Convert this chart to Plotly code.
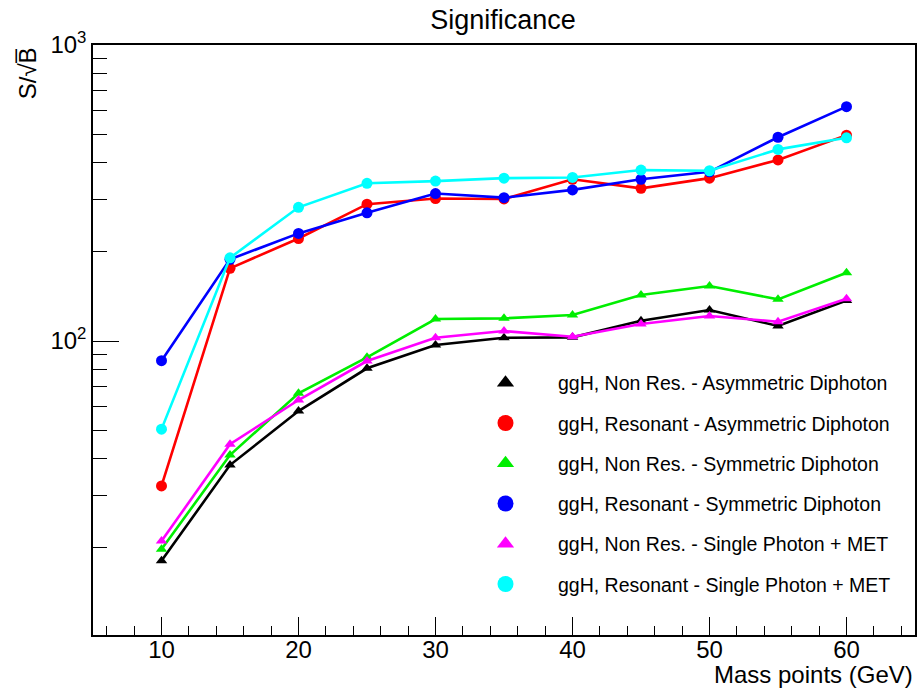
import plotly.graph_objects as go

mass = [10, 15, 20, 25, 30, 35, 40, 45, 50, 55, 60]

nonres_asym = [18.1, 38.1, 58.0, 80.9, 96.9, 102.6, 102.9, 117.1, 127.3, 112.4, 137.0]
res_asym = [32.4, 176, 222, 290, 303, 302, 352, 328, 355, 409, 496]
nonres_sym = [19.8, 41.2, 66.6, 88.1, 118.7, 119.3, 122.4, 143.0, 153.4, 138.3, 170.1]
res_sym = [85.8, 188.8, 231, 271, 315, 305, 324, 352, 373, 488, 619]
nonres_spmet = [21.1, 44.8, 63.2, 85.6, 102.6, 108.1, 103.4, 114.1, 121.5, 116.2, 139.0]
res_spmet = [50.4, 191, 283, 341, 347, 355, 357, 378, 376, 444, 486]

series_names = [
    "ggH, Non Res. - Asymmetric Diphoton",
    "ggH, Resonant - Asymmetric Diphoton",
    "ggH, Non Res. - Symmetric Diphoton",
    "ggH, Resonant - Symmetric Diphoton",
    "ggH, Non Res. - Single Photon + MET",
    "ggH, Resonant - Single Photon + MET",
]
series_values = [nonres_asym, res_asym, nonres_sym, res_sym, nonres_spmet, res_spmet]
series_colors = ["#000000", "#ff0000", "#00ee00", "#0000ff", "#ff00ff", "#00ffff"]
series_symbols = ["triangle-up", "circle", "triangle-up", "circle", "triangle-up", "circle"]

y_major = [100, 1000]
y_major_text = ["10<sup>2</sup>", "10<sup>3</sup>"]
y_minor = [20, 30, 40, 50, 60, 70, 80, 90, 200, 300, 400, 500, 600, 700, 800, 900]
x_major = [10, 20, 30, 40, 50, 60]
x_minor = [6, 8, 12, 14, 16, 18, 22, 24, 26, 28, 32, 34, 36, 38, 42, 44, 46, 48,
           52, 54, 56, 58, 62, 64]

FONT = "Liberation Sans, Arial, Helvetica, sans-serif"
PAD = "\u00a0" * 6

fig = go.Figure()

for name, vals, col, sym in zip(series_names, series_values, series_colors, series_symbols):
    fig.add_trace(go.Scatter(
        x=mass, y=vals, mode="lines+markers", name=name,
        line=dict(color=col, width=2.6),
        marker=dict(color=col, symbol=sym, size=11 if sym == "circle" else 10),
        showlegend=False,
    ))

for i, (name, col, sym) in enumerate(zip(series_names, series_colors, series_symbols)):
    fig.add_trace(go.Scatter(
        x=[None], y=[None], mode="markers", name=PAD + name,
        marker=dict(color=col, symbol=sym, size=17 if sym == "circle" else 15),
        legendgroup="g%d" % i, showlegend=True,
    ))

fig.update_layout(
    width=917, height=693,
    margin=dict(l=93, r=2, t=45, b=58, autoexpand=False),
    paper_bgcolor="white", plot_bgcolor="white",
    font=dict(family=FONT, color="black"),
    title=dict(text="Significance", x=0.5485, xanchor="center", y=0.972, yanchor="middle",
               font=dict(size=27, family=FONT, color="black")),
    showlegend=True,
    legend=dict(
        x=0.4775, y=0.46, xanchor="left", yanchor="top",
        font=dict(size=19.5, family=FONT, color="black"),
        bgcolor="rgba(0,0,0,0)", borderwidth=0,
        traceorder="grouped", tracegroupgap=11.9, itemwidth=30,
    ),
    xaxis=dict(
        range=[5, 65], showgrid=False, zeroline=False, automargin=False,
        showline=True, linecolor="black", linewidth=1.5, mirror=True,
        ticks="inside", ticklen=18, tickwidth=1.2, tickcolor="black",
        tickmode="array", tickvals=x_major, ticktext=[str(v) for v in x_major],
        tickfont=dict(size=24, family=FONT, color="black"),
        ticklabelstandoff=-8,
        minor=dict(tickmode="array", tickvals=x_minor, ticks="inside", ticklen=9,
                   tickwidth=1.2, tickcolor="black", showgrid=False),
    ),
    yaxis=dict(
        type="log", range=[1.007, 3.0], showgrid=False, zeroline=False, automargin=False,
        showline=True, linecolor="black", linewidth=1.5, mirror=True,
        ticks="inside", ticklen=26, tickwidth=1.2, tickcolor="black",
        tickmode="array", tickvals=y_major, ticktext=y_major_text,
        tickfont=dict(size=24, family=FONT, color="black"),
        minor=dict(tickmode="array", tickvals=y_minor, ticks="inside", ticklen=14,
                   tickwidth=1.2, tickcolor="black", showgrid=False),
    ),
    annotations=[
        dict(text="Mass points (GeV)", xref="paper", yref="paper", x=1.0, y=-0.04,
             xanchor="right", yanchor="top", showarrow=False,
             font=dict(size=24, family=FONT, color="black")),
        dict(text="S/\u221aB\u0305", xref="paper", yref="paper", x=-0.08, y=1.0,
             xanchor="center", yanchor="top", textangle=-90, showarrow=False,
             font=dict(size=24, family=FONT, color="black")),
    ],
)

fig.write_html("out.html", config={"displayModeBar": False},
               post_script="document.body.style.margin='0px';")
